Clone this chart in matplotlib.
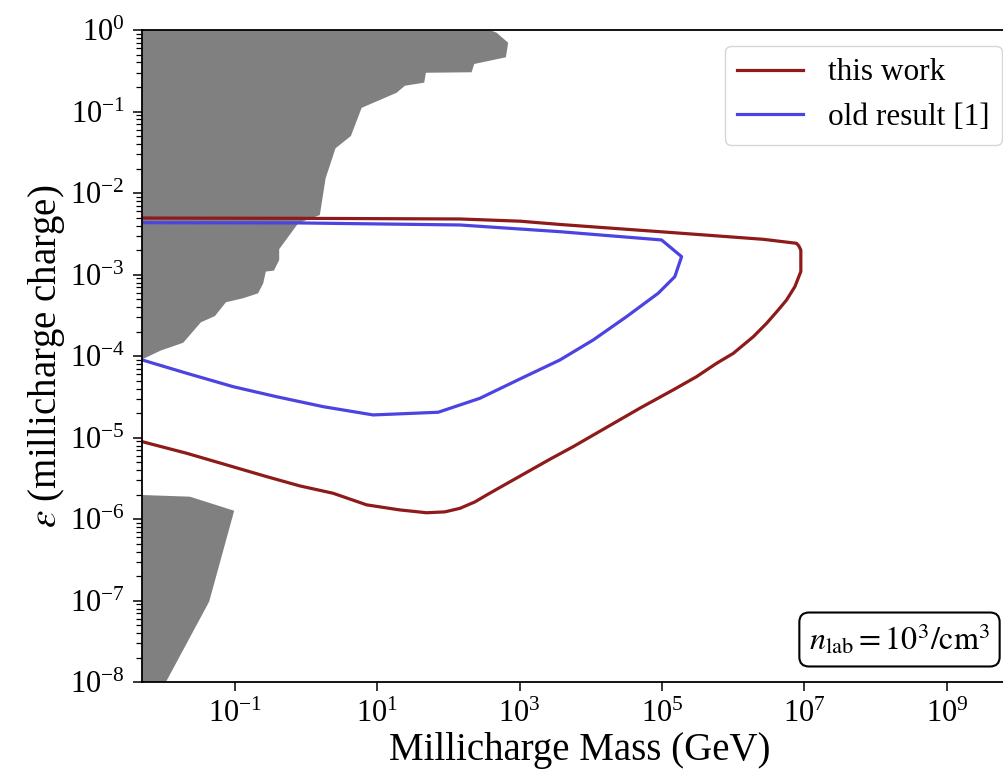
import numpy as np
import matplotlib
matplotlib.use("Agg")
import matplotlib.pyplot as plt
from matplotlib.ticker import NullLocator, LogLocator

plt.rcParams["font.family"] = ["Liberation Serif", "DejaVu Serif"]
plt.rcParams["mathtext.fontset"] = "stix"

# ─── data ────────────────────────────────────────────────────────────────────
# excluded region, upper grey patch
grey_hi_x = [5.0e-3, 381, 473, 689, 640, 230, 211, 48.2, 45.6, 24.4, 18.7, 6.03,
             4.26, 2.59, 1.88, 1.56, 0.774, 0.419, 0.419, 0.353, 0.272, 0.250,
             0.212, 0.131, 0.0748, 0.0524, 0.0333, 0.0188, 9.06e-3, 5.0e-3]
grey_hi_y = [1.0, 1.0, 0.927, 0.698, 0.463, 0.383, 0.303, 0.299, 0.226, 0.207,
             0.170, 0.111, 0.0501, 0.0354, 0.0152, 5.38e-3, 4.26e-3, 2.05e-3,
             1.51e-3, 1.12e-3, 1.09e-3, 7.83e-4, 5.90e-4, 5.13e-4, 4.58e-4,
             3.10e-4, 2.60e-4, 1.46e-4, 1.17e-4, 9.14e-5]

# excluded region, lower grey patch
grey_lo_x = [5.0e-3, 0.0233, 0.0977, 0.0435, 0.0107, 5.0e-3]
grey_lo_y = [1.98e-6, 1.89e-6, 1.27e-6, 9.75e-8, 1.0e-8, 1.0e-8]

# this work
red_x = [5.0e-3, 0.021, 0.279, 0.818, 2.40, 7.08, 20.7, 49.2, 88.9, 145, 235,
         343, 527, 2.65e3, 5.64e3, 4.88e4, 1.43e5, 3.05e5, 5.83e5, 9.98e5,
         1.91e6, 2.94e6, 4.28e6, 5.61e6, 7.33e6, 8.89e6, 8.89e6, 8.35e6,
         7.74e6, 2.63e6, 9.31e4, 3.67e3, 1.01e3, 145, 0.818, 5.0e-3]
red_y = [8.93e-6, 6.44e-6, 3.33e-6, 2.56e-6, 2.08e-6, 1.50e-6, 1.30e-6, 1.20e-6,
         1.23e-6, 1.36e-6, 1.63e-6, 1.98e-6, 2.45e-6, 5.43e-6, 7.76e-6, 2.30e-5,
         3.85e-5, 5.60e-5, 8.17e-5, 1.08e-4, 1.73e-4, 2.53e-4, 3.68e-4, 4.89e-4,
         7.11e-4, 1.09e-3, 2.00e-3, 2.24e-3, 2.42e-3, 2.71e-3, 3.36e-3, 4.12e-3,
         4.52e-3, 4.81e-3, 4.90e-3, 4.94e-3]

# old result [1]
blue_x = [5.0e-3, 0.021, 0.0946, 0.385, 1.74, 8.75, 71.6, 276, 1.01e3, 3.67e3,
          1.08e4, 3.17e4, 8.81e4, 1.51e5, 1.88e5, 9.84e4, 3.67e3, 145, 0.818, 5.0e-3]
blue_y = [8.97e-5, 6.17e-5, 4.22e-5, 3.18e-5, 2.40e-5, 1.90e-5, 2.05e-5, 3.04e-5,
          5.25e-5, 8.97e-5, 1.58e-4, 3.05e-4, 5.90e-4, 9.44e-4, 1.66e-3, 2.66e-3,
          3.36e-3, 4.06e-3, 4.30e-3, 4.33e-3]

x_ticks = [1e-1, 1e1, 1e3, 1e5, 1e7, 1e9]

RED = "#8e1a1a"
BLUE = "#4c43e0"
GREY = "#808080"

# ─── figure ──────────────────────────────────────────────────────────────────
fig = plt.figure(figsize=(10.04, 7.81), dpi=100)
ax = fig.add_axes([0.1417, 0.1264, 0.8723, 0.8352])

ax.fill(grey_hi_x, grey_hi_y, color=GREY, lw=0, zorder=1)
ax.fill(grey_lo_x, grey_lo_y, color=GREY, lw=0, zorder=1)
ax.plot(red_x, red_y, color=RED, lw=2.3, label="this work", zorder=3)
ax.plot(blue_x, blue_y, color=BLUE, lw=2.3, label="old result [1]", zorder=3)

ax.set_xscale("log")
ax.set_yscale("log")
ax.set_xlim(5e-3, 1e10)
ax.set_ylim(1e-8, 1)

ax.set_xticks(x_ticks)
ax.xaxis.set_minor_locator(NullLocator())
ax.yaxis.set_major_locator(LogLocator(base=10, numticks=20))
ax.yaxis.set_minor_locator(LogLocator(base=10, subs=np.arange(2, 10), numticks=20))
ax.tick_params(which="major", length=6.5, width=1.1, labelsize=22)
ax.tick_params(which="minor", length=4, width=0.9)
ax.tick_params(axis="x", pad=6)
ax.tick_params(axis="y", pad=6)
for side in ("left", "bottom", "top"):
    ax.spines[side].set_visible(True)
    ax.spines[side].set_linewidth(1.3)
    ax.spines[side].set_zorder(5)

ax.set_xlabel("Millicharge Mass (GeV)", fontsize=28, labelpad=2)
ax.set_ylabel(r"$\varepsilon$ (millicharge charge)", fontsize=28, labelpad=2)

ax.legend(loc="upper right", bbox_to_anchor=(1002 / 1004, 1 - 46 / 781),
          bbox_transform=fig.transFigure, borderaxespad=0, fontsize=22.5,
          handlelength=2.1)

fig.text(899.5 / 1004, 1 - 639.5 / 781, r"$n_{\rm lab} = 10^3/{\rm cm}^3$",
         ha="center", va="center", fontsize=23,
         bbox=dict(boxstyle="round,pad=0.3", fc="white", ec="black", lw=1.5))

fig.savefig("out.png", dpi=100)
